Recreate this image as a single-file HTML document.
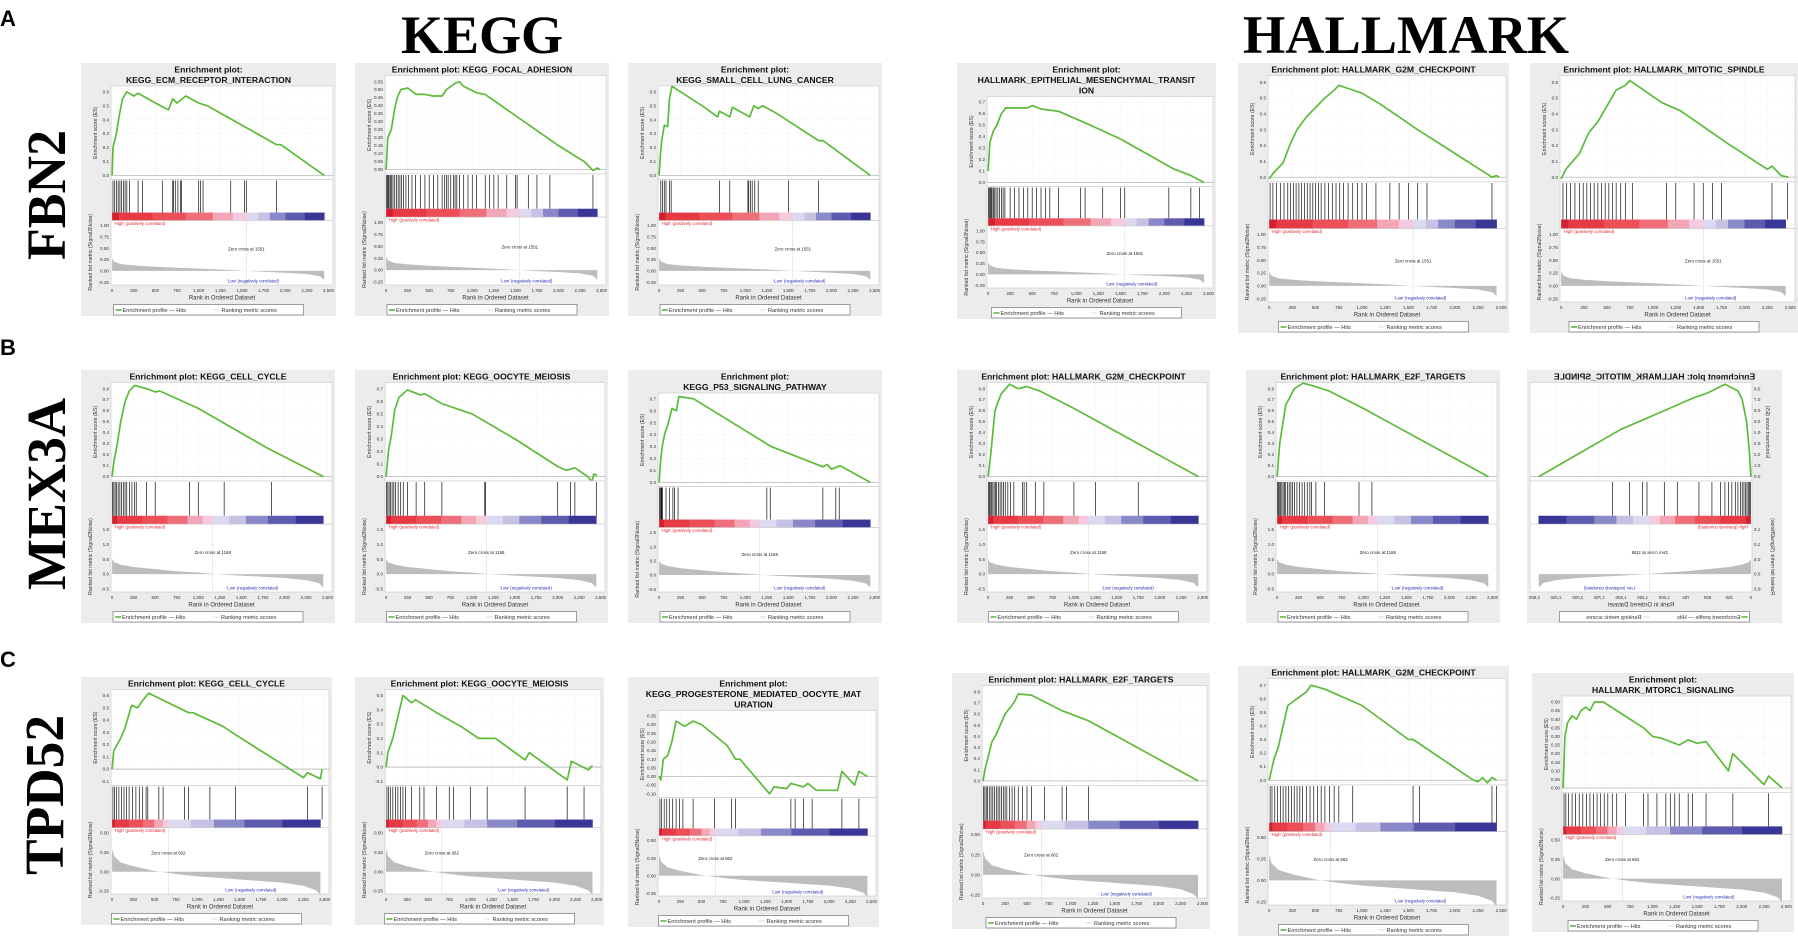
<!DOCTYPE html>
<html><head><meta charset="utf-8">
<style>
html,body{margin:0;padding:0;background:#fff;}
svg{display:block;font-family:"Liberation Sans",sans-serif;}
</style></head>
<body>
<svg id="fig" width="1798" height="937" viewBox="0 0 1798 937" xmlns="http://www.w3.org/2000/svg">
  <text x="0" y="26" font-size="22" font-weight="bold">A</text>
  <text x="0" y="355" font-size="22" font-weight="bold">B</text>
  <text x="0" y="667" font-size="22" font-weight="bold">C</text>
  <text x="482" y="53" font-family="Liberation Serif,serif" font-size="54" font-weight="bold" text-anchor="middle" textLength="162" lengthAdjust="spacingAndGlyphs">KEGG</text>
  <text x="1406" y="53" font-family="Liberation Serif,serif" font-size="54" font-weight="bold" text-anchor="middle" textLength="326" lengthAdjust="spacingAndGlyphs">HALLMARK</text>
  <text transform="translate(65,195) rotate(-90)" font-family="Liberation Serif,serif" font-size="55" font-weight="bold" text-anchor="middle" textLength="130" lengthAdjust="spacingAndGlyphs">FBN2</text>
  <text transform="translate(65,494) rotate(-90)" font-family="Liberation Serif,serif" font-size="55" font-weight="bold" text-anchor="middle" textLength="192" lengthAdjust="spacingAndGlyphs">MEX3A</text>
  <text transform="translate(63,795) rotate(-90)" font-family="Liberation Serif,serif" font-size="55" font-weight="bold" text-anchor="middle" textLength="160" lengthAdjust="spacingAndGlyphs">TPD52</text>
</svg>
<script>
// ---- shared axis data ----
const xTickLabels=["0","250","500","750","1,000","1,250","1,500","1,750","2,000","2,250","2,500"];
const metricRanks=[0,25,100,250,500,750,1000,1250,1500,1750,2000,2250,2400,2450];
const metricA=[0.28,0.2,0.15,0.12,0.09,0.07,0.05,0.03,0.005,-0.02,-0.04,-0.07,-0.12,-0.2];
const metricB=[0.5,0.4,0.32,0.24,0.17,0.1,0.05,-0.01,-0.05,-0.09,-0.13,-0.2,-0.3,-0.45];
const metricC=[0.3,0.2,0.12,0.07,0.01,-0.03,-0.06,-0.08,-0.1,-0.12,-0.14,-0.18,-0.24,-0.3];
const metricTicksA=["-0.25","0.00","0.25","0.50","0.75","1.00"];
const metricTicksB=["-0.5","0.0","0.5","1.0","1.5"];
const metricTicksC=["-0.25","0.00","0.25","0.50"];
const zeroCrossA=1551, zeroCrossB=1168, zeroCrossC=662;

// ---- per-panel series ----
const a1Rank=[0,10,50,80,120,170,250,300,500,650,700,750,850,1000,1100,1300,1500,1900,1950,2450];
const a1ES=[0,0.2,0.3,0.42,0.55,0.6,0.57,0.59,0.52,0.47,0.55,0.52,0.57,0.52,0.5,0.43,0.36,0.22,0.22,0];
const a1Hits=[10,30,50,70,90,110,130,150,170,200,300,350,580,700,710,730,760,790,800,1000,1020,1050,1370,1530,1550,1900];
const a1Ticks=["0.0","0.1","0.2","0.3","0.4","0.5","0.6"];

const a2Rank=[0,20,60,100,130,170,250,350,450,550,650,700,800,850,900,1050,1150,1600,2000,2300,2400,2450,2480];
const a2ES=[0,0.2,0.25,0.38,0.45,0.5,0.51,0.47,0.47,0.46,0.46,0.5,0.54,0.55,0.52,0.48,0.47,0.3,0.15,0.05,-0.005,0.01,0];
const a2Hits=[5,15,25,35,50,65,80,100,120,140,160,180,200,230,260,300,340,400,450,500,550,600,650,680,700,720,750,780,800,820,850,900,950,1000,1050,1150,1200,1250,1300,1400,1500,1520,1650,1750,1900,2400];
const a2Ticks=["0.00","0.05","0.10","0.15","0.20","0.25","0.30","0.35","0.40","0.45","0.50","0.55"];

const a3Rank=[0,15,30,60,100,120,150,500,680,700,820,850,1050,1100,1150,1200,1350,1850,1900,2450];
const a3ES=[0,0.15,0.25,0.36,0.35,0.55,0.64,0.5,0.42,0.46,0.42,0.49,0.42,0.5,0.48,0.5,0.45,0.25,0.25,0];
const a3Hits=[20,40,60,80,120,140,700,820,1030,1040,1060,1080,1110,1150,1500,1850];
const a3Ticks=["0.0","0.1","0.2","0.3","0.4","0.5","0.6"];

const a4Rank=[0,20,60,100,150,200,300,450,500,600,800,1100,1500,1800,2100,2300,2450];
const a4ES=[0.1,0.35,0.45,0.5,0.6,0.65,0.65,0.65,0.67,0.64,0.62,0.52,0.38,0.25,0.12,0.06,0];
const a4Hits=[5,15,25,35,45,60,75,90,110,130,150,170,190,250,300,350,400,450,500,550,600,650,700,800,1050,1100,1300,1500,1550,2050,2300,2400];
const a4Ticks=["0.0","0.1","0.2","0.3","0.4","0.5","0.6","0.7"];

const a5Rank=[0,50,150,220,300,400,500,600,700,750,850,1000,1200,1600,2000,2400,2450,2480];
const a5ES=[-0.01,0.03,0.09,0.2,0.3,0.38,0.44,0.5,0.55,0.58,0.56,0.53,0.46,0.3,0.15,0,0.01,0];
const a5Hits=[10,40,80,120,160,200,230,260,290,320,350,380,410,440,470,500,530,560,600,640,680,720,760,800,850,900,950,1000,1050,1150,1300,1400,1500,1600,1700,2400];
const a5Ticks=["0.0","0.1","0.2","0.3","0.4","0.5","0.6"];

const a6Rank=[0,50,200,300,400,500,600,700,750,900,1100,1300,1800,2250,2300,2400,2480];
const a6ES=[-0.01,0.05,0.15,0.28,0.35,0.45,0.55,0.58,0.61,0.55,0.47,0.42,0.22,0.05,0.07,0.01,0];
const a6Hits=[20,60,100,150,200,240,280,320,360,400,440,480,520,560,600,650,700,780,1150,1250,1450,1550,1650,1750,2300,2470];
const a6Ticks=["0.0","0.1","0.2","0.3","0.4","0.5","0.6"];

const b1Rank=[0,20,60,100,150,200,260,400,500,550,1000,1800,2450];
const b1ES=[0,0.13,0.3,0.5,0.68,0.78,0.83,0.8,0.77,0.78,0.62,0.26,0];
const b1Hits=[5,20,35,50,70,90,110,130,150,170,200,230,260,280,400,500,900,1000,1300,1850];
const b1Ticks=["0.0","0.1","0.2","0.3","0.4","0.5","0.6","0.7","0.8"];

const b2Rank=[0,30,60,100,150,250,400,450,650,1000,1500,2000,2100,2200,2350,2400,2420,2460];
const b2ES=[0,0.22,0.32,0.53,0.63,0.69,0.65,0.66,0.58,0.5,0.3,0.08,0.05,0.07,0,-0.04,0.02,0.01];
const b2Hits=[5,20,35,50,70,90,110,140,170,200,250,350,450,650,1150,1160,2000,2150,2200,2450];
const b2Ticks=["0.0","0.1","0.2","0.3","0.4","0.5","0.6","0.7"];

const b3Rank=[0,20,40,70,100,150,200,230,400,1300,1900,1950,2000,2100,2450];
const b3ES=[0,0.2,0.32,0.42,0.48,0.62,0.6,0.72,0.7,0.3,0.13,0.15,0.11,0.14,0];
const b3Hits=[5,15,25,30,40,80,120,160,180,220,1250,1290,1900,2050,2090];
const b3Ticks=["0.0","0.1","0.2","0.3","0.4","0.5","0.6","0.7"];

const b4Rank=[0,30,80,150,250,350,450,600,1000,1700,2450];
const b4ES=[0,0.2,0.6,0.75,0.84,0.8,0.82,0.78,0.62,0.32,0];
const b4Hits=[5,15,25,40,55,70,85,100,120,140,160,180,200,230,260,300,400,420,450,550,650,1000,1250,1750];
const b4Ticks=["0.0","0.1","0.2","0.3","0.4","0.5","0.6","0.7","0.8"];

const b5Rank=[0,30,100,200,300,400,600,1000,2450];
const b5ES=[0,0.3,0.65,0.8,0.85,0.83,0.78,0.62,0];
const b5Hits=[5,15,25,40,55,70,85,100,120,140,160,180,200,230,260,290,320,350,380,400,450,550,950,1100];
const b5Ticks=["0.0","0.1","0.2","0.3","0.4","0.5","0.6","0.7","0.8"];

const b6Rank=[0,20,50,100,150,300,500,650,1000,1500,2450];
const b6ES=[0,0.25,0.5,0.7,0.78,0.84,0.76,0.72,0.6,0.43,0];
const b6Hits=[5,15,30,45,60,80,100,120,150,180,220,260,300,350,450,600,850,1000,1200,1250,1400,1600];
const b6Ticks=["0.0","0.1","0.2","0.3","0.4","0.5","0.6","0.7","0.8"];

const c1Rank=[0,20,60,100,150,200,230,300,350,430,900,950,1300,1450,2250,2300,2450,2470];
const c1ES=[0,0.15,0.2,0.25,0.33,0.45,0.52,0.5,0.55,0.62,0.46,0.46,0.35,0.28,-0.07,-0.03,-0.08,0];
const c1Hits=[10,30,50,80,110,140,170,200,240,280,320,360,400,420,550,600,850,900,1150,1450,2300,2470];
const c1Ticks=["-0.1","0.0","0.1","0.2","0.3","0.4","0.5","0.6"];

const c2Rank=[0,20,80,120,200,300,350,600,900,1100,1300,1650,1700,2150,2200,2400,2450];
const c2ES=[0,0.1,0.2,0.3,0.5,0.45,0.47,0.38,0.28,0.2,0.2,0.05,0.1,-0.09,0.04,-0.02,0.01];
const c2Hits=[10,30,50,80,110,140,170,200,230,300,400,450,600,750,800,1000,1200,1650,2150,2350];
const c2Ticks=["-0.1","0.0","0.1","0.2","0.3","0.4","0.5"];

const c3Rank=[0,20,50,100,150,200,300,400,500,800,900,950,1300,1350,1500,1550,1700,1750,1850,2100,2150,2300,2350,2450];
const c3ES=[0,-0.02,0.1,0.12,0.2,0.32,0.29,0.32,0.3,0.18,0.1,0.1,-0.1,-0.06,-0.07,-0.04,-0.06,-0.04,-0.08,-0.08,0.03,-0.05,0.03,0];
const c3Hits=[10,30,60,90,120,160,200,240,280,400,650,850,900,1550,1600,1700,1800,2150,2350];
const c3Ticks=["-0.10","-0.05","0.00","0.05","0.10","0.15","0.20","0.25","0.30","0.35"];

const c4Rank=[0,20,100,150,250,350,400,550,900,1200,2450];
const c4ES=[0,0.1,0.35,0.42,0.6,0.7,0.78,0.77,0.63,0.54,0];
const c4Hits=[5,20,35,50,70,90,110,130,150,170,190,210,230,250,270,300,330,360,400,450,500,550,700,900,950,1200];
const c4Ticks=["0.0","0.1","0.2","0.3","0.4","0.5","0.6","0.7","0.8"];

const c5Rank=[0,50,100,150,200,300,400,450,600,1000,1500,1550,2200,2250,2300,2350,2400,2450];
const c5ES=[0,0.15,0.25,0.4,0.55,0.6,0.65,0.7,0.67,0.55,0.3,0.3,0,-0.01,0.02,-0.02,0.02,0];
const c5Hits=[10,30,60,90,120,150,180,210,240,270,300,330,360,400,440,480,520,560,600,650,700,750,900,1550,1620,2400,2450];
const c5Ticks=["0.0","0.1","0.2","0.3","0.4","0.5","0.6","0.7"];

const c6Rank=[0,20,50,100,150,200,250,300,350,450,600,900,1000,1100,1300,1400,1500,1600,1850,1900,2250,2300,2450];
const c6ES=[0,0.3,0.38,0.42,0.4,0.45,0.47,0.45,0.5,0.5,0.45,0.35,0.3,0.29,0.25,0.28,0.26,0.27,0.1,0.2,0.02,0.07,0];
const c6Hits=[10,30,60,100,140,180,220,260,300,340,380,420,460,500,550,600,700,900,950,1050,1150,1200,1250,1300,1400,1450,1600,1900,2300];
const c6Ticks=["0.00","0.05","0.10","0.15","0.20","0.25","0.30","0.35","0.40","0.45","0.50"];

const NS="http://www.w3.org/2000/svg";
const fig=document.getElementById('fig');
function mk(tag,attrs,parent){const e=document.createElementNS(NS,tag);for(const k in attrs)e.setAttribute(k,attrs[k]);(parent||fig).appendChild(e);return e;}

const rowMetric={A:[metricA,metricTicksA,zeroCrossA],B:[metricB,metricTicksB,zeroCrossB],C:[metricC,metricTicksC,zeroCrossC]};

function drawPanel(p){
  const g=mk('g',{transform:p.mirror?`translate(${p.x+p.w},${p.y}) scale(-1,1)`:`translate(${p.x},${p.y})`});
  
  
  const W=p.w,H=p.h;
  const bg=mk('rect',{x:0,y:0,width:W,height:H,fill:'#ececec'},g);
  
  
  // title
  p.title.forEach((t,i)=>{
    const tx=mk('text',{x:W/2,y:9.5+i*10.5,'text-anchor':'middle','font-size':8.6,'font-weight':'bold',fill:'#111'},g);
    tx.textContent=t;
    
    
    const L=tx.getComputedTextLength();
    if(L>W-4){tx.setAttribute('textLength',W-4);tx.setAttribute('lengthAdjust','spacingAndGlyphs');}
  });
  const pl=30,pr=W-3;
  const esTop=2+p.title.length*10.5;
  const mBot=H-31;
  const S=mBot-esTop;
  const esH=S*0.47, hitsTop=esTop+esH, hitsH=S*0.166, barTop=hitsTop+hitsH, barH=S*0.04, mTop=barTop+barH, mH=mBot-mTop;
  const xr=r=>pl+(0.005+r/2500*0.975)*(pr-pl);
  // ES axis
  const tv=p.ticks.map(parseFloat);
  const tmin=tv[0],tmax=tv[tv.length-1],tr=tmax-tmin;
  const eMax=tmax+tr*0.07,eMin=tmin-tr*0.05;
  const ey=v=>esTop+(eMax-v)/(eMax-eMin)*esH;
  mk('rect',{x:pl,y:esTop,width:pr-pl,height:esH,fill:'#fff',stroke:'#c8c8c8','stroke-width':0.6},g);
  xTickLabels.forEach(l=>{const x=xr(parseFloat(l.replace(',','')));mk('line',{x1:x,x2:x,y1:esTop,y2:esTop+esH,stroke:'#e6e6e6','stroke-width':0.4,'stroke-dasharray':'1,1'},g);});
  p.ticks.forEach(l=>{const y=ey(parseFloat(l));
    mk('line',{x1:pl,x2:pr,y1:y,y2:y,stroke:'#e6e6e6','stroke-width':0.4,'stroke-dasharray':'1,1'},g);
    const t=mk('text',{x:pl-2,y:y+1.6,'text-anchor':'end','font-size':4.6,fill:'#333'},g);t.textContent=l;
    
    });
  if(tmin<0){mk('line',{x1:pl,x2:pr,y1:ey(0),y2:ey(0),stroke:'#999','stroke-width':0.6},g);}
  else {mk('line',{x1:pl,x2:pr,y1:ey(0),y2:ey(0),stroke:'#aaa','stroke-width':0.6},g);}
  const yl=mk('text',{transform:`translate(${pl-14},${esTop+esH/2}) rotate(-90)`,'text-anchor':'middle','font-size':5.2,fill:'#333'},g);
  yl.textContent='Enrichment score (ES)';
  
  
  const pts=p.rank.map((r,i)=>xr(r).toFixed(1)+','+ey(p.es[i]).toFixed(1)).join(' ');
  const line=mk('polyline',{points:pts,fill:'none',stroke:'#5cbb3a','stroke-width':1.7,'stroke-linejoin':'round'},g);
  
  
  // hits
  mk('rect',{x:pl,y:hitsTop,width:pr-pl,height:hitsH+barH,fill:'#fff',stroke:'#c8c8c8','stroke-width':0.6},g);
  p.hits.forEach(r=>{const x=xr(r);const h=mk('line',{x1:x,x2:x,y1:hitsTop+1,y2:barTop,stroke:'#111','stroke-width':0.7},g);
    
    });
  // color bar
  const [mv,mt,zc]=rowMetric[p.row];
  const redF=[0,.05,.3,.55,.75,.9,1], redC=['#d41f2f','#e83a45','#ec4f58','#ee6f7a','#f3a6b6','#f6cade'];
  const bluF=[0,.15,.3,.5,.75,1], bluC=['#dcdaf0','#c6c2e4','#8a88c8','#5e5aae','#3a3698'];
  const end=2450;
  redC.forEach((c,i)=>{const x0=xr(zc*redF[i]),x1=xr(zc*redF[i+1]);mk('rect',{x:x0,y:barTop,width:x1-x0+0.3,height:barH,fill:c},g);});
  bluC.forEach((c,i)=>{const x0=xr(zc+(end-zc)*bluF[i]),x1=xr(zc+(end-zc)*bluF[i+1]);mk('rect',{x:x0,y:barTop,width:x1-x0+0.3,height:barH,fill:c},g);});
  // metric plot
  mk('rect',{x:pl,y:mTop,width:pr-pl,height:mH,fill:'#fff',stroke:'#c8c8c8','stroke-width':0.6},g);
  const mtv=mt.map(parseFloat),m0=mtv[0],m1=mtv[mtv.length-1],mr=m1-m0;
  const mMax=m1+mr*0.09,mMin=m0-mr*0.05;
  const my=v=>mTop+(mMax-v)/(mMax-mMin)*mH;
  mt.forEach(l=>{const y=my(parseFloat(l));const t=mk('text',{x:pl-2,y:y+1.6,'text-anchor':'end','font-size':4.6,fill:'#333'},g);t.textContent=l;
    
    });
  const ap=[xr(0)+','+my(0)].concat(metricRanks.map((r,i)=>xr(r).toFixed(1)+','+my(mv[i]).toFixed(1))).concat([xr(2450)+','+my(0)]).join(' ');
  const area=mk('polygon',{points:ap,fill:'#bdbdbd',stroke:'none'},g);
  
  
  mk('line',{x1:xr(zc),x2:xr(zc),y1:mTop,y2:mBot,stroke:'#aaa','stroke-width':0.4,'stroke-dasharray':'1.5,1'},g);
  const zt=mk('text',{x:xr(zc),y:my(m1*0.45),'text-anchor':'middle','font-size':4.4,fill:'#222'},g);
  zt.textContent='Zero cross at '+zc;
  
  
  const hi=mk('text',{x:pl+3,y:mTop+4.5,'font-size':4.2,fill:'#e0202a'},g);hi.textContent="'High' (positively correlated)";
  
  
  const lo=mk('text',{x:pr-(pr-pl)*0.36,y:mBot-2.5,'text-anchor':'middle','font-size':4.2,fill:'#2020b0'},g);lo.textContent="'Low' (negatively correlated)";
  
  
  const ml=mk('text',{transform:`translate(${pl-19},${hitsTop+(mBot-hitsTop)/2+20}) rotate(-90)`,'text-anchor':'middle','font-size':5.2,fill:'#333'},g);
  ml.textContent='Ranked list metric (Signal2Noise)';
  
  
  xTickLabels.forEach(l=>{const t=mk('text',{x:xr(parseFloat(l.replace(',',''))),y:H-24,'text-anchor':'middle','font-size':4.4,fill:'#333'},g);t.textContent=l;
    
    });
  const xl=mk('text',{x:(pl+pr)/2,y:H-16.5,'text-anchor':'middle','font-size':6,fill:'#333'},g);xl.textContent='Rank in Ordered Dataset';
  
  
  // legend
  const lx=W/2-95;
  const lg=mk('g',{},g);
  
  
  mk('rect',{x:lx,y:H-11.5,width:190,height:10.5,fill:'#fff',stroke:'#777','stroke-width':0.7},lg);
  mk('line',{x1:lx+2,x2:lx+8,y1:H-6,y2:H-6,stroke:'#5cbb3a','stroke-width':1.6},lg);
  const lt=mk('text',{x:lx+9,y:H-4,'font-size':5.6,fill:'#333'},lg);lt.textContent='Enrichment profile — Hits';
  mk('line',{x1:lx+100,x2:lx+106,y1:H-6,y2:H-6,stroke:'#ddd','stroke-width':1},lg);
  const lt2=mk('text',{x:lx+108,y:H-4,'font-size':5.6,fill:'#333'},lg);lt2.textContent='Ranking metric scores';
}

const panels=[
 {id:'a1',row:'A',x:81,y:63,w:255,h:253,title:['Enrichment plot:','KEGG_ECM_RECEPTOR_INTERACTION'],rank:a1Rank,es:a1ES,hits:a1Hits,ticks:a1Ticks},
 {id:'a2',row:'A',x:355,y:63,w:254,h:253,title:['Enrichment plot: KEGG_FOCAL_ADHESION'],rank:a2Rank,es:a2ES,hits:a2Hits,ticks:a2Ticks},
 {id:'a3',row:'A',x:628,y:63,w:254,h:253,title:['Enrichment plot:','KEGG_SMALL_CELL_LUNG_CANCER'],rank:a3Rank,es:a3ES,hits:a3Hits,ticks:a3Ticks},
 {id:'a4',row:'A',x:957,y:63,w:259,h:256,title:['Enrichment plot:','HALLMARK_EPITHELIAL_MESENCHYMAL_TRANSIT','ION'],rank:a4Rank,es:a4ES,hits:a4Hits,ticks:a4Ticks},
 {id:'a5',row:'A',x:1238,y:63,w:271,h:270,title:['Enrichment plot: HALLMARK_G2M_CHECKPOINT'],rank:a5Rank,es:a5ES,hits:a5Hits,ticks:a5Ticks},
 {id:'a6',row:'A',x:1530,y:63,w:268,h:270,title:['Enrichment plot: HALLMARK_MITOTIC_SPINDLE'],rank:a6Rank,es:a6ES,hits:a6Hits,ticks:a6Ticks},
 {id:'b1',row:'B',x:81,y:370,w:254,h:253,title:['Enrichment plot: KEGG_CELL_CYCLE'],rank:b1Rank,es:b1ES,hits:b1Hits,ticks:b1Ticks},
 {id:'b2',row:'B',x:355,y:370,w:253,h:253,title:['Enrichment plot: KEGG_OOCYTE_MEIOSIS'],rank:b2Rank,es:b2ES,hits:b2Hits,ticks:b2Ticks},
 {id:'b3',row:'B',x:628,y:370,w:254,h:253,title:['Enrichment plot:','KEGG_P53_SIGNALING_PATHWAY'],rank:b3Rank,es:b3ES,hits:b3Hits,ticks:b3Ticks},
 {id:'b4',row:'B',x:957,y:370,w:253,h:253,title:['Enrichment plot: HALLMARK_G2M_CHECKPOINT'],rank:b4Rank,es:b4ES,hits:b4Hits,ticks:b4Ticks},
 {id:'b5',row:'B',x:1246,y:370,w:254,h:253,title:['Enrichment plot: HALLMARK_E2F_TARGETS'],rank:b5Rank,es:b5ES,hits:b5Hits,ticks:b5Ticks},
 {id:'b6',row:'B',x:1527,y:370,w:255,h:253,mirror:true,title:['Enrichment plot: HALLMARK_MITOTIC_SPINDLE'],rank:b6Rank,es:b6ES,hits:b6Hits,ticks:b6Ticks},
 {id:'c1',row:'C',x:81,y:677,w:251,h:248,title:['Enrichment plot: KEGG_CELL_CYCLE'],rank:c1Rank,es:c1ES,hits:c1Hits,ticks:c1Ticks},
 {id:'c2',row:'C',x:355,y:677,w:249,h:248,title:['Enrichment plot: KEGG_OOCYTE_MEIOSIS'],rank:c2Rank,es:c2ES,hits:c2Hits,ticks:c2Ticks},
 {id:'c3',row:'C',x:628,y:677,w:251,h:250,title:['Enrichment plot:','KEGG_PROGESTERONE_MEDIATED_OOCYTE_MAT','URATION'],rank:c3Rank,es:c3ES,hits:c3Hits,ticks:c3Ticks},
 {id:'c4',row:'C',x:952,y:673,w:258,h:256,title:['Enrichment plot: HALLMARK_E2F_TARGETS'],rank:c4Rank,es:c4ES,hits:c4Hits,ticks:c4Ticks},
 {id:'c5',row:'C',x:1238,y:666,w:271,h:270,title:['Enrichment plot: HALLMARK_G2M_CHECKPOINT'],rank:c5Rank,es:c5ES,hits:c5Hits,ticks:c5Ticks},
 {id:'c6',row:'C',x:1532,y:673,w:262,h:259,title:['Enrichment plot:','HALLMARK_MTORC1_SIGNALING'],rank:c6Rank,es:c6ES,hits:c6Hits,ticks:c6Ticks}
];
panels.forEach(drawPanel);
</script>
</body></html>
